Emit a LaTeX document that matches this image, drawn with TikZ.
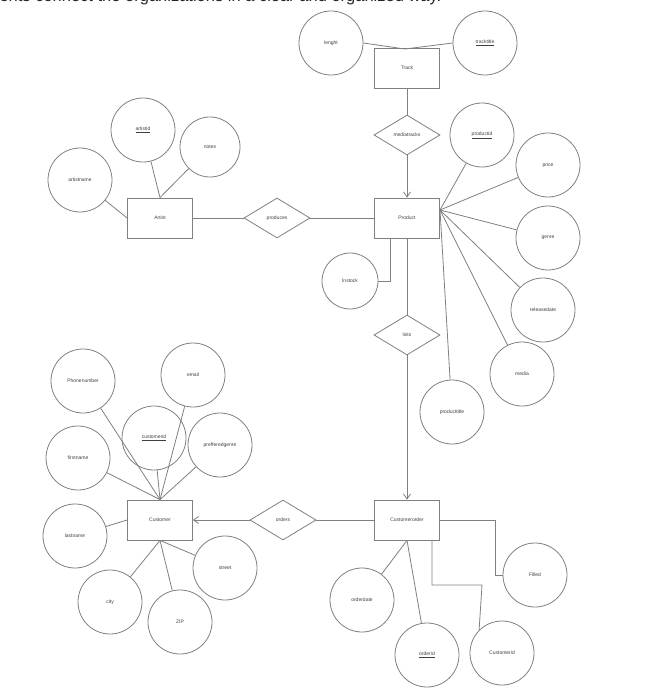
\documentclass[tikz,border=0pt]{standalone}
\usepackage{fontspec}
\setmainfont{Liberation Sans}
\usetikzlibrary{shapes.geometric,arrows.meta}
\begin{document}
\begin{tikzpicture}[x=1pt,y=-1pt,
  every node/.style={font=\fontsize{5}{6}\selectfont, text=black!75},
  ln/.style={draw=black!50, line width=0.8pt},
  ent/.style={ln, rectangle, minimum width=65pt, minimum height=40pt, inner sep=0pt},
  rel/.style={ln, diamond, aspect=1.65, minimum width=66pt, minimum height=40pt, inner sep=0pt},
  att/.style={ln, circle, minimum size=64pt, inner sep=0pt},
  arr/.style={ln, -{Straight Barb[length=5pt,width=7pt]}}]
\clip (0,0) rectangle (655,700);
\fill[white] (0,0) rectangle (655,700);
\node[font=\fontsize{16.5}{18}\selectfont, text=black!85, anchor=west] (hdr) at (-4,-3) {ents connect the organizations in a clear and organized way.};
% Track
\node[ent] (track) at (407,68) {Track};
\node[att] (lenght) at (331,43) {lenght};
\node[att] (tracktitle) at (485,43) {\underline{tracktitle}};
\coordinate (ttop) at (405,49);
\draw[ln] (lenght.east) -- (ttop) -- (tracktitle.west);
\node[rel] (mediatracks) at (407,135) {mediatracks};
\node[ent] (product) at (407,218) {Product};
\draw[ln] (track) -- (mediatracks);
\draw[arr] (mediatracks) -- (product);
% Artist
\node[ent] (artist) at (160,218) {Artist};
\node[rel] (produces) at (277,218) {produces};
\draw[ln] (artist) -- (produces) -- (product);
\node[att] (artistid) at (143,130) {\underline{artistid}};
\node[att, minimum size=60pt] (notes) at (210,147) {notes};
\node[att] (artistname) at (80,180) {artistname};
\draw[ln] (artistid) -- (artist.north);
\draw[ln] (notes) -- (artist.north);
\draw[ln] (artistname) -- (artist.west);
% Product attributes
\coordinate (pr) at (440,210);
\node[att] (productid) at (482,135) {\underline{productid}};
\node[att] (price) at (548,165) {price};
\node[att] (genre) at (548,238) {genre};
\node[att] (releasedate) at (543,310) {releasedate};
\node[att] (media) at (522,374) {media};
\node[att] (producttitle) at (452,412) {producttitle};
\node[att, minimum size=56pt] (instock) at (350,281) {Instock};
\foreach \a in {productid,price,genre,releasedate,media,producttitle} \draw[ln] (pr) -- (\a);
\draw[ln] (product.south) ++(-17,0) |- (instock.east);
% lists
\node[rel] (lists) at (407,335) {lists};
\node[ent] (corder) at (407,520) {Customerorder};
\draw[ln] (product) -- (lists);
\draw[arr] (lists) -- (corder);
% Customer
\node[ent] (customer) at (160,520) {Customer};
\node[rel] (orders) at (283,520) {orders};
\draw[ln] (corder) -- (orders);
\draw[arr] (orders) -- (customer);
\node[att] (phone) at (83,381) {Phonenumber};
\node[att] (email) at (193,375) {email};
\node[att] (customerid) at (154,438) {\underline{customerid}};
\node[att] (pgenre) at (220,445) {prefferedgenre};
\node[att] (firstname) at (78,458) {firstname};
\node[att] (lastname) at (75,536) {lastname};
\node[att] (city) at (110,602) {city};
\node[att] (zip) at (180,622) {ZIP};
\node[att] (street) at (225,568) {street};
\foreach \a in {phone,email,customerid,pgenre,firstname} \draw[ln] (\a) -- (customer.north);
\draw[ln] (lastname) -- (customer.west);
\foreach \a in {city,zip,street} \draw[ln] (\a) -- (customer.south);
% Customerorder attributes
\node[att] (orderdate) at (362,600) {orderdate};
\node[att] (orderid) at (427,655) {\underline{orderid}};
\node[att] (custid) at (502,653) {Customerid};
\node[att] (filled) at (535,575) {Filled};
\draw[ln] (corder.south) -- (orderdate);
\draw[ln] (corder.south) -- (orderid);
\coordinate (cidj) at (482,585);
\draw[ln] (corder.south) ++(25,0) |- (cidj) -- (custid.north west);
\draw[ln] (corder.east) -| (495,575) -- (filled.west);
\end{tikzpicture}
\end{document}
